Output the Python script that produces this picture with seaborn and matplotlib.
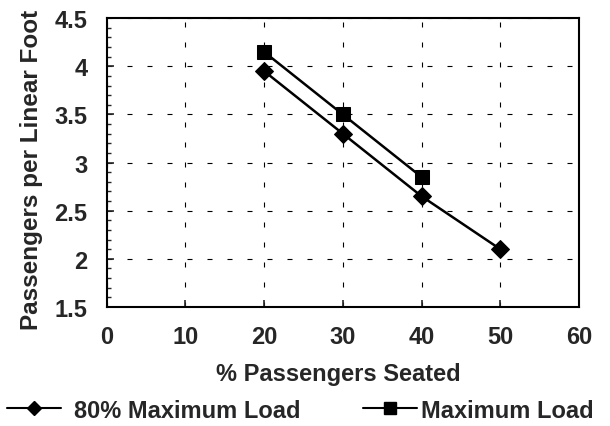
import numpy as np
import pandas as pd
import matplotlib
matplotlib.use("Agg")
import matplotlib.pyplot as plt
import seaborn as sns
from matplotlib.ticker import MultipleLocator

# data
seated_80 = [20, 30, 40, 50]
load_80 = [3.95, 3.30, 2.65, 2.10]
seated_max = [20, 30, 40]
load_max = [4.15, 3.50, 2.85]

df = pd.concat([
    pd.DataFrame({"seated": seated_80, "ppf": load_80, "series": "80% Maximum Load"}),
    pd.DataFrame({"seated": seated_max, "ppf": load_max, "series": "Maximum Load"}),
])

sns.set_style("white")
plt.rcParams["font.family"] = ["Liberation Sans", "DejaVu Sans"]
plt.rcParams["font.weight"] = "bold"
plt.rcParams["axes.labelweight"] = "bold"

fig = plt.figure(figsize=(6.1, 4.27), dpi=100)
ax = fig.add_axes([0.175, 0.279, 0.774, 0.676])

sns.lineplot(data=df, x="seated", y="ppf", hue="series", style="series",
             markers={"80% Maximum Load": "D", "Maximum Load": "s"},
             dashes=False, palette=["black", "black"], linewidth=1.8,
             markersize=10.5, markeredgecolor="black", ax=ax, legend=False)
# diamonds a bit smaller
for ln in ax.lines:
    if ln.get_marker() == "D":
        ln.set_markersize(9)

ax.set_xlim(0, 60)
ax.set_ylim(1.5, 4.5)
ax.set_xticks(range(0, 61, 10))
ax.set_yticks([1.5, 2, 2.5, 3, 3.5, 4, 4.5])
ax.set_yticklabels(["1.5", "2", "2.5", "3", "3.5", "4", "4.5"])
ax.yaxis.set_minor_locator(MultipleLocator(0.1))
ax.tick_params(axis="both", which="major", direction="in", length=5, width=1.2,
               labelsize=17, left=True, bottom=True)
ax.tick_params(axis="y", which="major", pad=14)
ax.tick_params(axis="x", which="major", pad=13)
ax.tick_params(axis="y", which="minor", direction="in", length=3, width=1, left=True)
ax.grid(True, which="major", color="black", linestyle=(0, (4.5, 13.5)), linewidth=0.8)
for s in ax.spines.values():
    s.set_color("black")
    s.set_linewidth(1.5)

ax.set_xlabel("% Passengers Seated", fontsize=17)
ax.xaxis.set_label_coords(0.49, -0.19)
ax.set_ylabel("Passengers per Linear Foot", fontsize=17.5)
ax.yaxis.set_label_coords(-0.136, 0.477)

# two separate legend entries, spaced like the reference
h80 = plt.Line2D([], [], color="black", marker="D", markersize=7.5, linewidth=1.5)
hmax = plt.Line2D([], [], color="black", marker="s", markersize=8, linewidth=1.5)
leg1 = fig.legend([h80], ["80% Maximum Load"], loc="center left",
                  bbox_to_anchor=(0.0115, 0.037), frameon=False,
                  prop={"size": 17, "weight": "bold"}, borderpad=0,
                  borderaxespad=0, handlelength=2.3, handletextpad=0.55)
leg2 = fig.legend([hmax], ["Maximum Load"], loc="center left",
                  bbox_to_anchor=(0.595, 0.037), frameon=False,
                  prop={"size": 17, "weight": "bold"}, borderpad=0,
                  borderaxespad=0, handlelength=2.3, handletextpad=0.15)

fig.savefig("out.png", dpi=100)
